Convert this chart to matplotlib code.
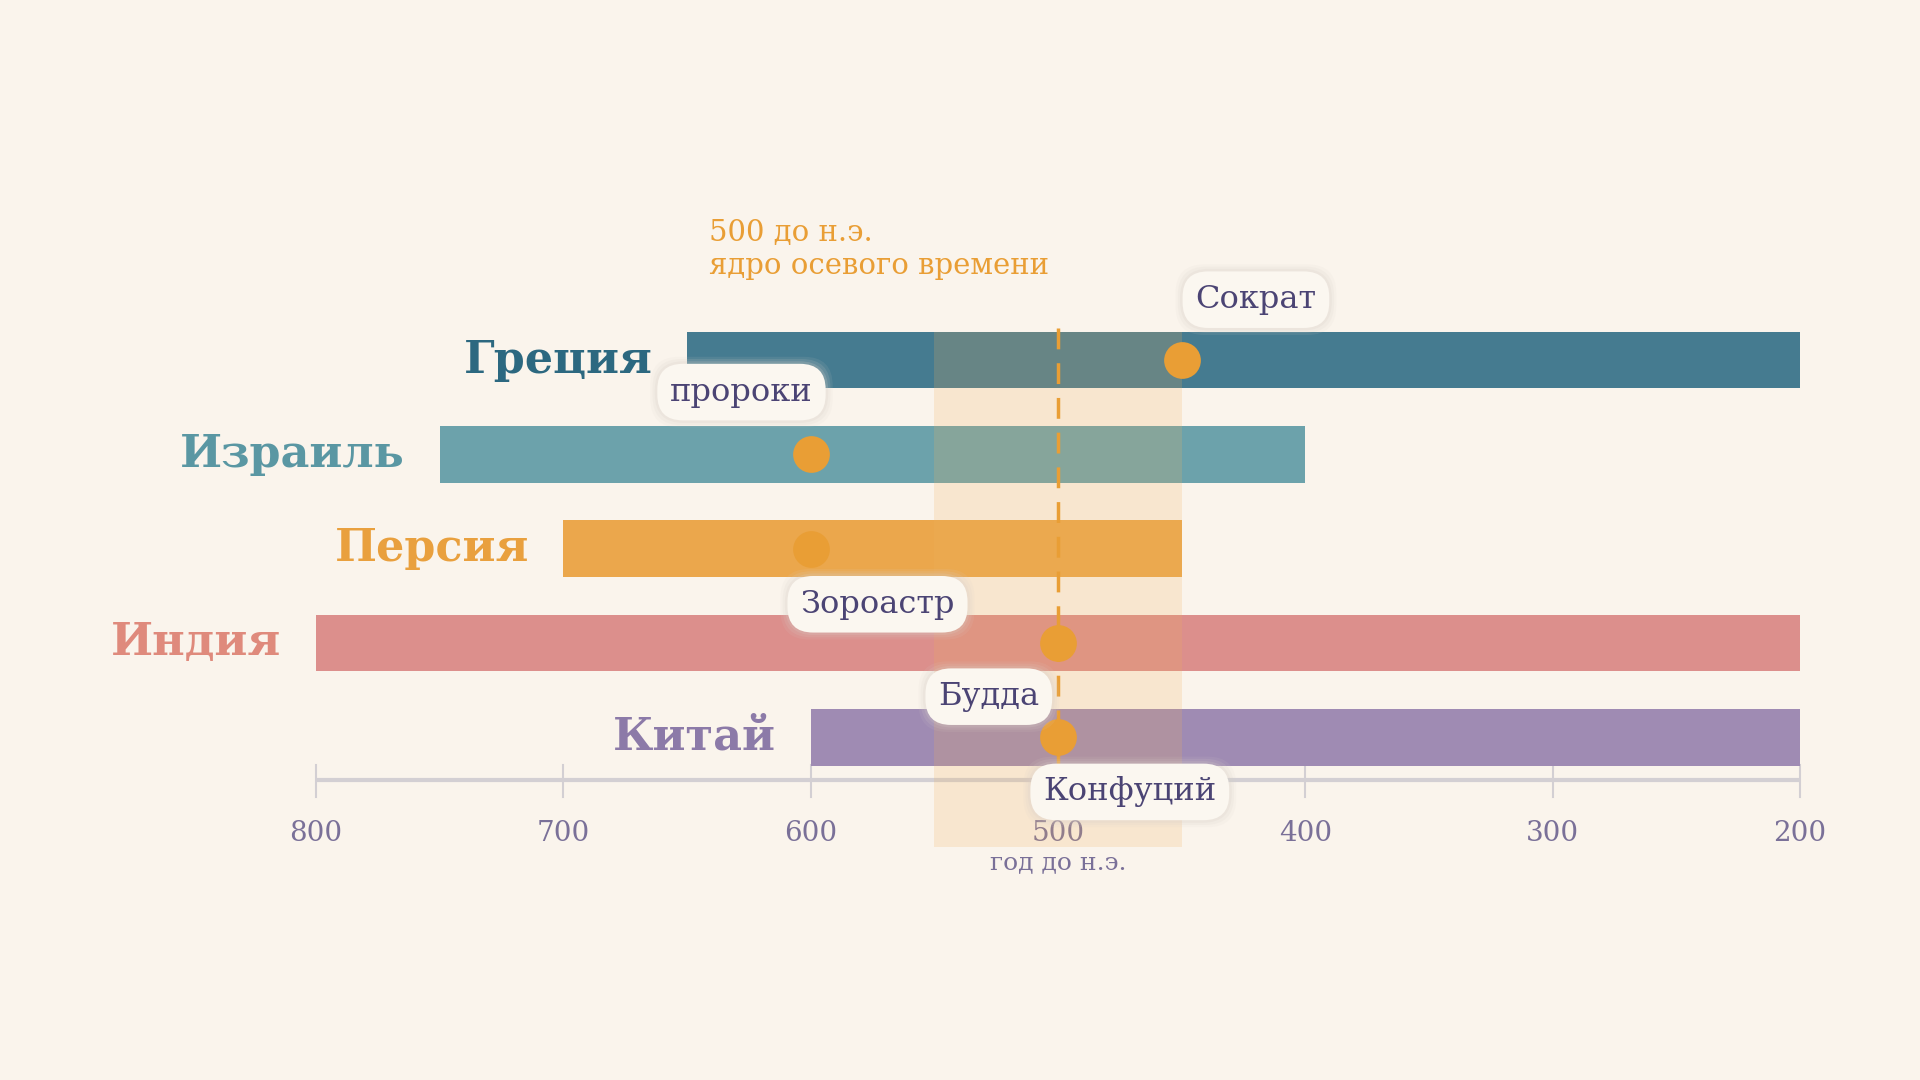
import matplotlib.pyplot as plt
from matplotlib.patches import Rectangle

plt.rcParams.update({'font.family': 'DejaVu Serif'})

# data
countries = ['Греция', 'Израиль', 'Персия', 'Индия', 'Китай']
starts = [650, 750, 700, 800, 600]
ends = [200, 400, 450, 200, 200]
bar_colors = ['#457b90', '#6ca2ab', '#eba74c', '#dc8f8c', '#9f8bb3']
label_colors = ['#2c6880', '#5a97a3', '#e9a03e', '#df8a7c', '#8c7aa8']

people = ['Сократ', 'пророки', 'Зороастр', 'Будда', 'Конфуций']
person_year = [450, 600, 600, 500, 500]
person_row = [0, 1, 2, 3, 4]
label_x = [420, 628, 573, 528, 471]
label_y = [-0.64, 0.34, 2.59, 3.57, 4.58]

ticks = [800, 700, 600, 500, 400, 300, 200]
core_start, core_end, core_year = 550, 450, 500

bg = '#faf4ec'
orange = '#e99e35'
ink = '#4b4474'

fig = plt.figure(figsize=(19.2, 10.8), dpi=100, facecolor=bg)
ax = fig.add_axes([0, 0, 1, 1])
ax.set_facecolor(bg)
ax.set_xlim(927.8, 151.5)
ax.set_ylim(7.635, -3.818)
ax.axis('off')

bar_h = 0.6
for i, (c, s, e) in enumerate(zip(countries, starts, ends)):
    ax.add_patch(Rectangle((e, i - bar_h / 2), s - e, bar_h, fc=bar_colors[i], ec='none', zorder=2))
    ax.text(s + 14, i, c, ha='right', va='center', fontsize=32, fontweight='bold',
            color=label_colors[i], zorder=3)

# axis line and ticks
axis_y = 4.454
ax.plot([800, 200], [axis_y, axis_y], color='#d3cfd3', lw=3, zorder=1, solid_capstyle='butt')
for t in ticks:
    ax.plot([t, t], [axis_y - 0.16, axis_y + 0.18], color='#d3cfd3', lw=1.5, zorder=1)
    ax.text(t, 5.02, str(t), ha='center', va='center', fontsize=20, color='#7a7098', zorder=1)
ax.text(500, 5.33, 'год до н.э.', ha='center', va='center', fontsize=18, color='#7a7098', zorder=1)

# axial age band
ax.add_patch(Rectangle((core_end, -0.3), core_start - core_end, 5.46, fc='#f0b25c', ec='none',
                       alpha=0.2, zorder=4))
ax.plot([core_year, core_year], [-0.34, 4.45], color=orange, lw=2.5, dashes=(6, 4), zorder=5)
ax.text(641, -1.35, '500 до н.э.', ha='left', va='center', fontsize=21, color=orange)
ax.text(641, -1.0, 'ядро осевого времени', ha='left', va='center', fontsize=21, color=orange)

# people
ax.scatter(person_year, person_row, s=700, color=orange, zorder=6, linewidths=0)
for name, x, y in zip(people, label_x, label_y):
    for pad, a in [(0.62, 0.10), (0.55, 0.14), (0.48, 0.2)]:
        ax.text(x, y, name, ha='center', va='center', fontsize=23, color='none', zorder=7,
                bbox=dict(boxstyle=f'round,pad={pad},rounding_size=0.9', fc='#d8cfc8', ec='none', alpha=a))
    ax.text(x, y, name, ha='center', va='center', fontsize=23, color=ink, zorder=8,
            bbox=dict(boxstyle='round,pad=0.4,rounding_size=0.8', fc='#fbf7f0', ec='none'))

fig.savefig('out.png', dpi=100, facecolor=bg)
